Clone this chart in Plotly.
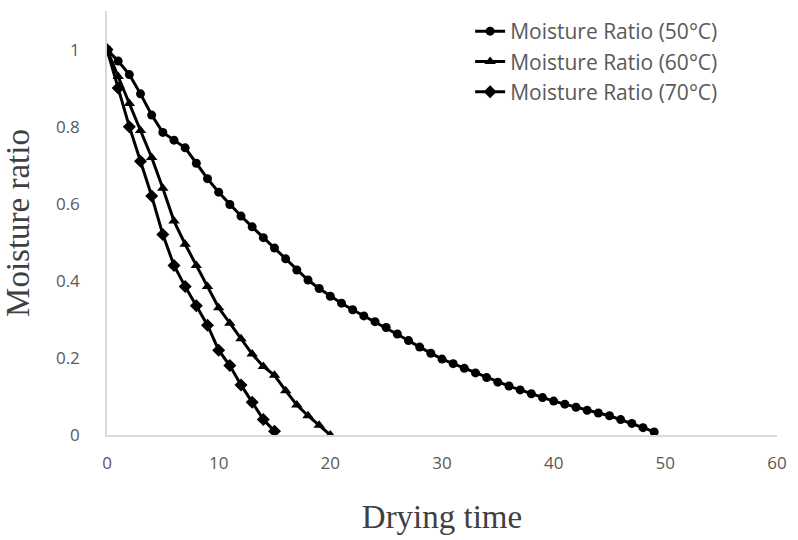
import plotly.graph_objects as go

t50 = list(range(0, 50))
mr50 = [1.00, 0.97, 0.935, 0.885, 0.83, 0.785, 0.765, 0.745, 0.705, 0.665,
        0.63, 0.598, 0.568, 0.54, 0.512, 0.485, 0.457, 0.428, 0.402, 0.38,
        0.36, 0.342, 0.325, 0.309, 0.294, 0.279, 0.262, 0.245, 0.228, 0.212,
        0.197, 0.185, 0.173, 0.161, 0.149, 0.137, 0.127, 0.117, 0.107, 0.097,
        0.088, 0.08, 0.072, 0.064, 0.057, 0.05, 0.04, 0.03, 0.019, 0.008]

t60 = list(range(0, 21))
mr60 = [1.0, 0.93, 0.86, 0.79, 0.72, 0.64, 0.555, 0.495, 0.44, 0.385,
        0.33, 0.29, 0.25, 0.21, 0.178, 0.155, 0.115, 0.078, 0.05, 0.025, 0.0]

t70 = list(range(0, 16))
mr70 = [1.0, 0.9, 0.8, 0.71, 0.62, 0.52, 0.44, 0.385, 0.335, 0.285,
        0.22, 0.18, 0.13, 0.085, 0.04, 0.01]

names = ["Moisture Ratio (50°C)", "Moisture Ratio (60°C)", "Moisture Ratio (70°C)"]
symbols = ["circle", "triangle-up", "diamond"]
sizes = [9, 10, 10]

fig = go.Figure()
for i, (x, y) in enumerate([(t50, mr50), (t60, mr60), (t70, mr70)]):
    fig.add_trace(go.Scatter(
        x=x, y=y, mode="lines+markers", name=names[i], legendgroup=str(i),
        line=dict(color="black", width=3),
        marker=dict(symbol=symbols[i], size=sizes[i], color="black"),
    ))

fig.update_layout(
    width=798, height=540,
    margin=dict(l=107, r=18, t=11, b=104),
    plot_bgcolor="white", paper_bgcolor="white",
    showlegend=True,
    legend=dict(x=0.542, y=1.0, xanchor="left", yanchor="top",
                font=dict(family="Open Sans, sans-serif", size=21, color="#595959"),
                bgcolor="rgba(255,255,255,0)", tracegroupgap=0, itemwidth=30),
    font=dict(family="Open Sans, sans-serif", color="#595959"),
)
fig.update_xaxes(range=[0, 60], dtick=10, showgrid=False, zeroline=False,
                 showline=True, linecolor="#d9d9d9", linewidth=1.5,
                 tickfont=dict(size=17, color="#595959"), ticks="", ticklabelstandoff=12,
                 title=dict(text="Drying time", standoff=32,
                            font=dict(family="Liberation Serif, serif", size=33, color="#404040")))
fig.update_yaxes(range=[0, 1.1], tickvals=[0, 0.2, 0.4, 0.6, 0.8, 1.0], showgrid=False, zeroline=False,
                 showline=True, linecolor="#d9d9d9", linewidth=1.5,
                 tickfont=dict(size=17, color="#595959"), ticks="", ticklabelstandoff=22,
                 title=dict(text="Moisture ratio", standoff=16,
                            font=dict(family="Liberation Serif, serif", size=33, color="#404040")))

fig.write_html("out.html")
